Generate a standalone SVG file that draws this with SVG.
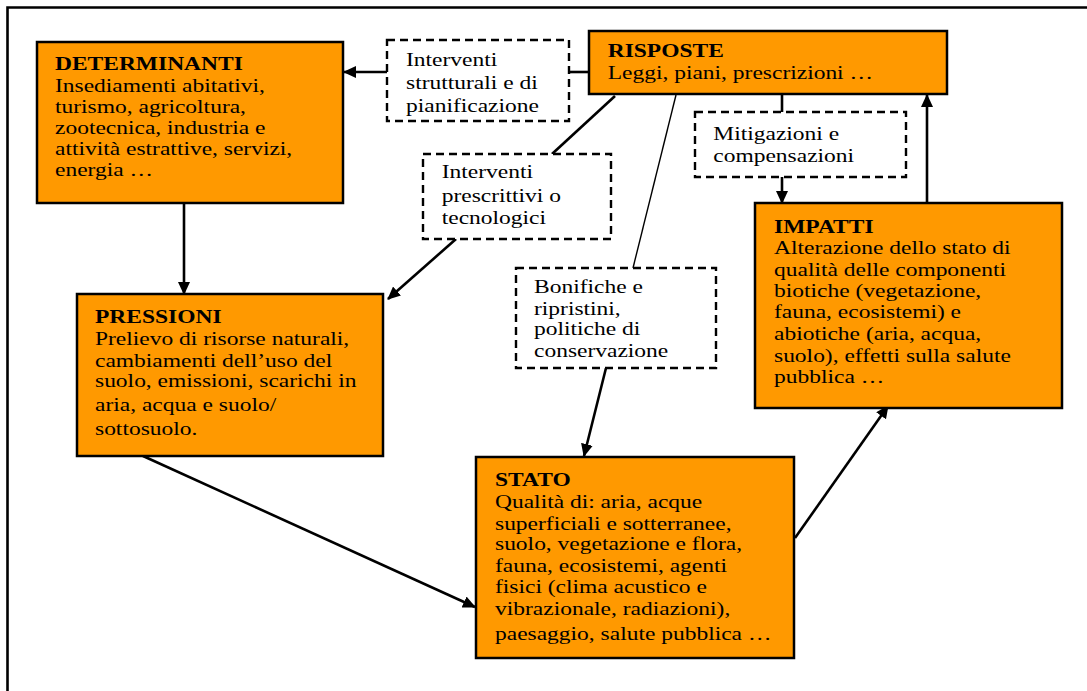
<svg xmlns="http://www.w3.org/2000/svg" width="1087" height="691" viewBox="0 0 1087 691">
<defs>
<marker id="ah" markerUnits="userSpaceOnUse" markerWidth="13" markerHeight="12" refX="12" refY="6" orient="auto">
<path d="M0,0 L13,6 L0,12 z" fill="#000"/>
</marker>
<style>
.box{fill:#FF9900;stroke:#000;stroke-width:2.5}
.dbox{fill:#fff;stroke:#000;stroke-width:2.4;stroke-dasharray:8,5}
text{font-family:"Liberation Serif","Times New Roman",serif;font-size:18.2px;fill:#000}
.b{font-weight:bold}
.c{fill:none;stroke:#000;stroke-width:2.6}
.a{marker-end:url(#ah)}
.thin{stroke-width:1.4}
</style>
</defs>
<rect width="1087" height="691" fill="#fff"/>
<path d="M7.5,691 V7.5 H1087" fill="none" stroke="#000" stroke-width="2.6"/>

<g id="connectors">
<line class="c a" x1="387" y1="72" x2="344" y2="72"/>
<line class="c" x1="569" y1="72" x2="589" y2="72"/>
<line class="c" x1="615" y1="96" x2="552" y2="154"/>
<line class="c a" x1="456" y1="239" x2="388" y2="299"/>
<line class="c thin" x1="676" y1="95" x2="633" y2="268"/>
<line class="c a" x1="606" y1="368" x2="584" y2="456"/>
<line class="c" x1="782" y1="94" x2="782" y2="112"/>
<line class="c a" x1="782" y1="177" x2="782" y2="203"/>
<line class="c a" x1="927" y1="203" x2="927" y2="95"/>
<line class="c a" x1="184" y1="203" x2="184" y2="294"/>
<line class="c a" x1="143" y1="456" x2="475" y2="607"/>
<line class="c a" x1="795" y1="538" x2="888" y2="406"/>
</g>

<g id="determinanti">
<rect class="box" x="37" y="42" width="306" height="161"/>
<text transform="translate(55,0) scale(1.29,1)"><tspan x="0" y="70.5" class="b">DETERMINANTI</tspan><tspan x="0" y="92">Insediamenti abitativi,</tspan><tspan x="0" y="113">turismo, agricoltura,</tspan><tspan x="0" y="134">zootecnica, industria e</tspan><tspan x="0" y="155.5">attività estrattive, servizi,</tspan><tspan x="0" y="176.5">energia …</tspan></text>
</g>

<g id="interventi-strutturali">
<rect class="dbox" x="387" y="40" width="182" height="81"/>
<text transform="translate(406,0) scale(1.29,1)"><tspan x="0" y="65.7">Interventi</tspan><tspan x="0" y="89">strutturali e di</tspan><tspan x="0" y="111.7">pianificazione</tspan></text>
</g>

<g id="risposte">
<rect class="box" x="589" y="31" width="358" height="63"/>
<text transform="translate(607.7,0) scale(1.29,1)"><tspan x="0" y="56.7" class="b">RISPOSTE</tspan><tspan x="0" y="79.3">Leggi, piani, prescrizioni …</tspan></text>
</g>

<g id="mitigazioni">
<rect class="dbox" x="695" y="112" width="211" height="65"/>
<text transform="translate(713.3,0) scale(1.29,1)"><tspan x="0" y="140">Mitigazioni e</tspan><tspan x="0" y="161.7">compensazioni</tspan></text>
</g>

<g id="interventi-prescrittivi">
<rect class="dbox" x="423" y="154" width="188" height="85"/>
<text transform="translate(441.7,0) scale(1.29,1)"><tspan x="0" y="178.3">Interventi</tspan><tspan x="0" y="201.7">prescrittivi o</tspan><tspan x="0" y="224">tecnologici</tspan></text>
</g>

<g id="impatti">
<rect class="box" x="755" y="203" width="307" height="205"/>
<text transform="translate(774,0) scale(1.29,1)"><tspan x="0" y="232.7" class="b">IMPATTI</tspan><tspan x="0" y="254">Alterazione dello stato di</tspan><tspan x="0" y="276">qualità delle componenti</tspan><tspan x="0" y="297.3">biotiche (vegetazione,</tspan><tspan x="0" y="318.3">fauna, ecosistemi) e</tspan><tspan x="0" y="340">abiotiche (aria, acqua,</tspan><tspan x="0" y="361.7">suolo), effetti sulla salute</tspan><tspan x="0" y="383.3">pubblica …</tspan></text>
</g>

<g id="pressioni">
<rect class="box" x="77" y="294" width="306" height="162"/>
<text transform="translate(95,0) scale(1.29,1)"><tspan x="0" y="323.3" class="b">PRESSIONI</tspan><tspan x="0" y="345">Prelievo di risorse naturali,</tspan><tspan x="0" y="366.7">cambiamenti dell’uso del</tspan><tspan x="0" y="387.3">suolo, emissioni, scarichi in</tspan><tspan x="0" y="410.7">aria, acqua e suolo/</tspan><tspan x="0" y="435.3">sottosuolo.</tspan></text>
</g>

<g id="bonifiche">
<rect class="dbox" x="516" y="268" width="200" height="100"/>
<text transform="translate(534,0) scale(1.29,1)"><tspan x="0" y="293.3">Bonifiche e</tspan><tspan x="0" y="315">ripristini,</tspan><tspan x="0" y="335">politiche di</tspan><tspan x="0" y="356.7">conservazione</tspan></text>
</g>

<g id="stato">
<rect class="box" x="476" y="457" width="318" height="201"/>
<text transform="translate(495,0) scale(1.29,1)"><tspan x="0" y="486" class="b">STATO</tspan><tspan x="0" y="508.3">Qualità di: aria, acque</tspan><tspan x="0" y="530">superficiali e sotterranee,</tspan><tspan x="0" y="550">suolo, vegetazione e flora,</tspan><tspan x="0" y="571.7">fauna, ecosistemi, agenti</tspan><tspan x="0" y="593.3">fisici (clima acustico e</tspan><tspan x="0" y="615">vibrazionale, radiazioni),</tspan><tspan x="0" y="640">paesaggio, salute pubblica …</tspan></text>
</g>
</svg>
